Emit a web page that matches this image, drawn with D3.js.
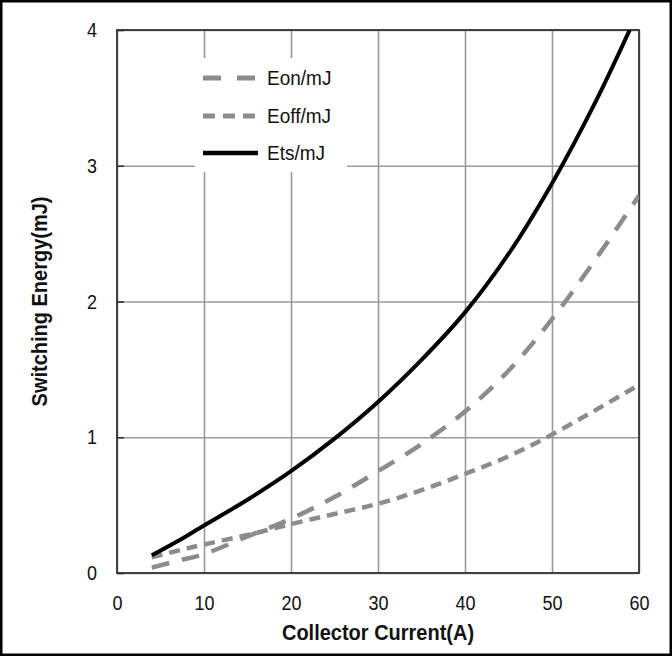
<!DOCTYPE html>
<html>
<head>
<meta charset="utf-8">
<script src="https://cdn.jsdelivr.net/npm/d3@7"></script>
<style>
  html, body { margin: 0; padding: 0; background: #fff; }
  svg { display: block; }
  text { font-family: "Liberation Sans", Arial, Helvetica, sans-serif; fill: #111; }
</style>
</head>
<body>
<svg id="chart" width="672" height="656"></svg>
<script>
// Collector current (A) at which each curve is sampled
const current = [4, 7, 10, 15, 20, 25, 30, 35, 40, 45, 50, 55, 60];
// Switching energies (mJ)
const eon  = [0.04, 0.09, 0.14, 0.27, 0.40, 0.56, 0.75, 0.95, 1.19, 1.49, 1.87, 2.31, 2.78];
const eoff = [0.115, 0.165, 0.21, 0.28, 0.36, 0.435, 0.51, 0.61, 0.73, 0.86, 1.02, 1.20, 1.385];
const ets  = [0.13, 0.235, 0.35, 0.54, 0.75, 0.99, 1.26, 1.57, 1.92, 2.35, 2.87, 3.47, 4.15];

const seriesNames = ["Eon/mJ", "Eoff/mJ", "Ets/mJ"];
const xTicks = [0, 10, 20, 30, 40, 50, 60];
const yTicks = [0, 1, 2, 3, 4];

const svg = d3.select("#chart");
const W = 672, H = 656;
const m = { left: 117, right: 639, top: 30, bottom: 573 };

const x = d3.scaleLinear().domain([0, 60]).range([m.left, m.right]);
const y = d3.scaleLinear().domain([0, 4]).range([m.bottom, m.top]);

// outer frame
svg.append("rect")
  .attr("x", 1.25).attr("y", 1.25)
  .attr("width", W - 2.5).attr("height", H - 2.5)
  .attr("fill", "#fff").attr("stroke", "#000").attr("stroke-width", 2.5);

// grid
const grid = svg.append("g").attr("class", "grid");
grid.append("g")
  .attr("transform", `translate(0,${m.bottom})`)
  .call(d3.axisBottom(x).tickValues(xTicks).tickSize(-(m.bottom - m.top)).tickFormat(""))
  .call(g => g.select(".domain").remove())
  .call(g => g.selectAll("line").attr("stroke", "#9a9a9a").attr("stroke-width", 1.6));
grid.append("g")
  .attr("transform", `translate(${m.left},0)`)
  .call(d3.axisLeft(y).tickValues(yTicks).tickSize(-(m.right - m.left)).tickFormat(""))
  .call(g => g.select(".domain").remove())
  .call(g => g.selectAll("line").attr("stroke", "#9a9a9a").attr("stroke-width", 1.6));

// short inner ticks on the value axis
svg.append("g")
  .attr("transform", `translate(${m.left},0)`)
  .call(d3.axisLeft(y).tickValues(yTicks).tickSize(-7).tickFormat(""))
  .call(g => g.select(".domain").remove())
  .call(g => g.selectAll("line").attr("stroke", "#333").attr("stroke-width", 1.6));

// legend background knocks out the grid behind it
const lg = svg.append("g").attr("class", "legend");
lg.append("rect")
  .attr("x", 195).attr("y", 58).attr("width", 152).attr("height", 114)
  .attr("fill", "#fff");

// plot border
svg.append("rect")
  .attr("x", m.left).attr("y", m.top)
  .attr("width", m.right - m.left).attr("height", m.bottom - m.top)
  .attr("fill", "none").attr("stroke", "#333").attr("stroke-width", 1.8);

// curves
svg.append("clipPath").attr("id", "plotclip")
  .append("rect")
  .attr("x", m.left).attr("y", m.top)
  .attr("width", m.right - m.left).attr("height", m.bottom - m.top);

const styles = [
  { values: eon,  color: "#8c8c8c", width: 4.5, dash: "18,13" },
  { values: eoff, color: "#8c8c8c", width: 4.5, dash: "11,7" },
  { values: ets,  color: "#000",    width: 4,   dash: null }
];

const line = d3.line()
  .x(d => x(d[0]))
  .y(d => y(d[1]))
  .curve(d3.curveCatmullRom.alpha(0.5));

const curves = svg.append("g").attr("clip-path", "url(#plotclip)");
styles.forEach(s => {
  curves.append("path")
    .datum(current.map((c, i) => [c, s.values[i]]))
    .attr("d", line)
    .attr("fill", "none")
    .attr("stroke", s.color)
    .attr("stroke-width", s.width)
    .attr("stroke-dasharray", s.dash)
    .attr("stroke-linejoin", "round");
});

// legend entries
const legendY = [78, 116, 153];
styles.forEach((s, i) => {
  lg.append("line")
    .attr("x1", 203).attr("x2", 258)
    .attr("y1", legendY[i]).attr("y2", legendY[i])
    .attr("stroke", s.color)
    .attr("stroke-width", s.width + 0.5)
    .attr("stroke-dasharray", s.dash ? (i === 0 ? "18,16" : "12,8") : null);
  lg.append("text")
    .attr("x", 267).attr("y", legendY[i])
    .attr("dy", "0.36em")
    .attr("font-size", 19)
    .attr("transform", `translate(0,${legendY[i]}) scale(1,1.08) translate(0,${-legendY[i]})`)
    .text(seriesNames[i]);
});

// tick labels
svg.append("g")
  .attr("transform", `translate(${m.left},0)`)
  .call(d3.axisLeft(y).tickValues(yTicks).tickSize(0).tickPadding(20).tickFormat(d3.format("d")))
  .call(g => g.select(".domain").remove())
  .call(g => g.selectAll("text")
    .attr("font-size", 18)
    .attr("font-family", null)
    .attr("fill", "#111")
    .attr("transform", "scale(1,1.15)"));

svg.append("g")
  .attr("transform", `translate(0,${m.bottom})`)
  .call(d3.axisBottom(x).tickValues(xTicks).tickSize(0).tickPadding(19).tickFormat(d3.format("d")))
  .call(g => g.select(".domain").remove())
  .call(g => g.selectAll("text")
    .attr("font-size", 18)
    .attr("font-family", null)
    .attr("fill", "#111")
    .attr("transform", "scale(1,1.15)"));

// axis titles
svg.append("text")
  .attr("transform", `translate(${(m.left + m.right) / 2},640) scale(1,1.12)`)
  .attr("text-anchor", "middle")
  .attr("font-size", 20)
  .attr("font-weight", "bold")
  .text("Collector Current(A)");

svg.append("text")
  .attr("transform", `translate(47,${(m.top + m.bottom) / 2}) rotate(-90) scale(1,1.12)`)
  .attr("text-anchor", "middle")
  .attr("font-size", 20)
  .attr("font-weight", "bold")
  .text("Switching Energy(mJ)");
</script>
</body>
</html>
